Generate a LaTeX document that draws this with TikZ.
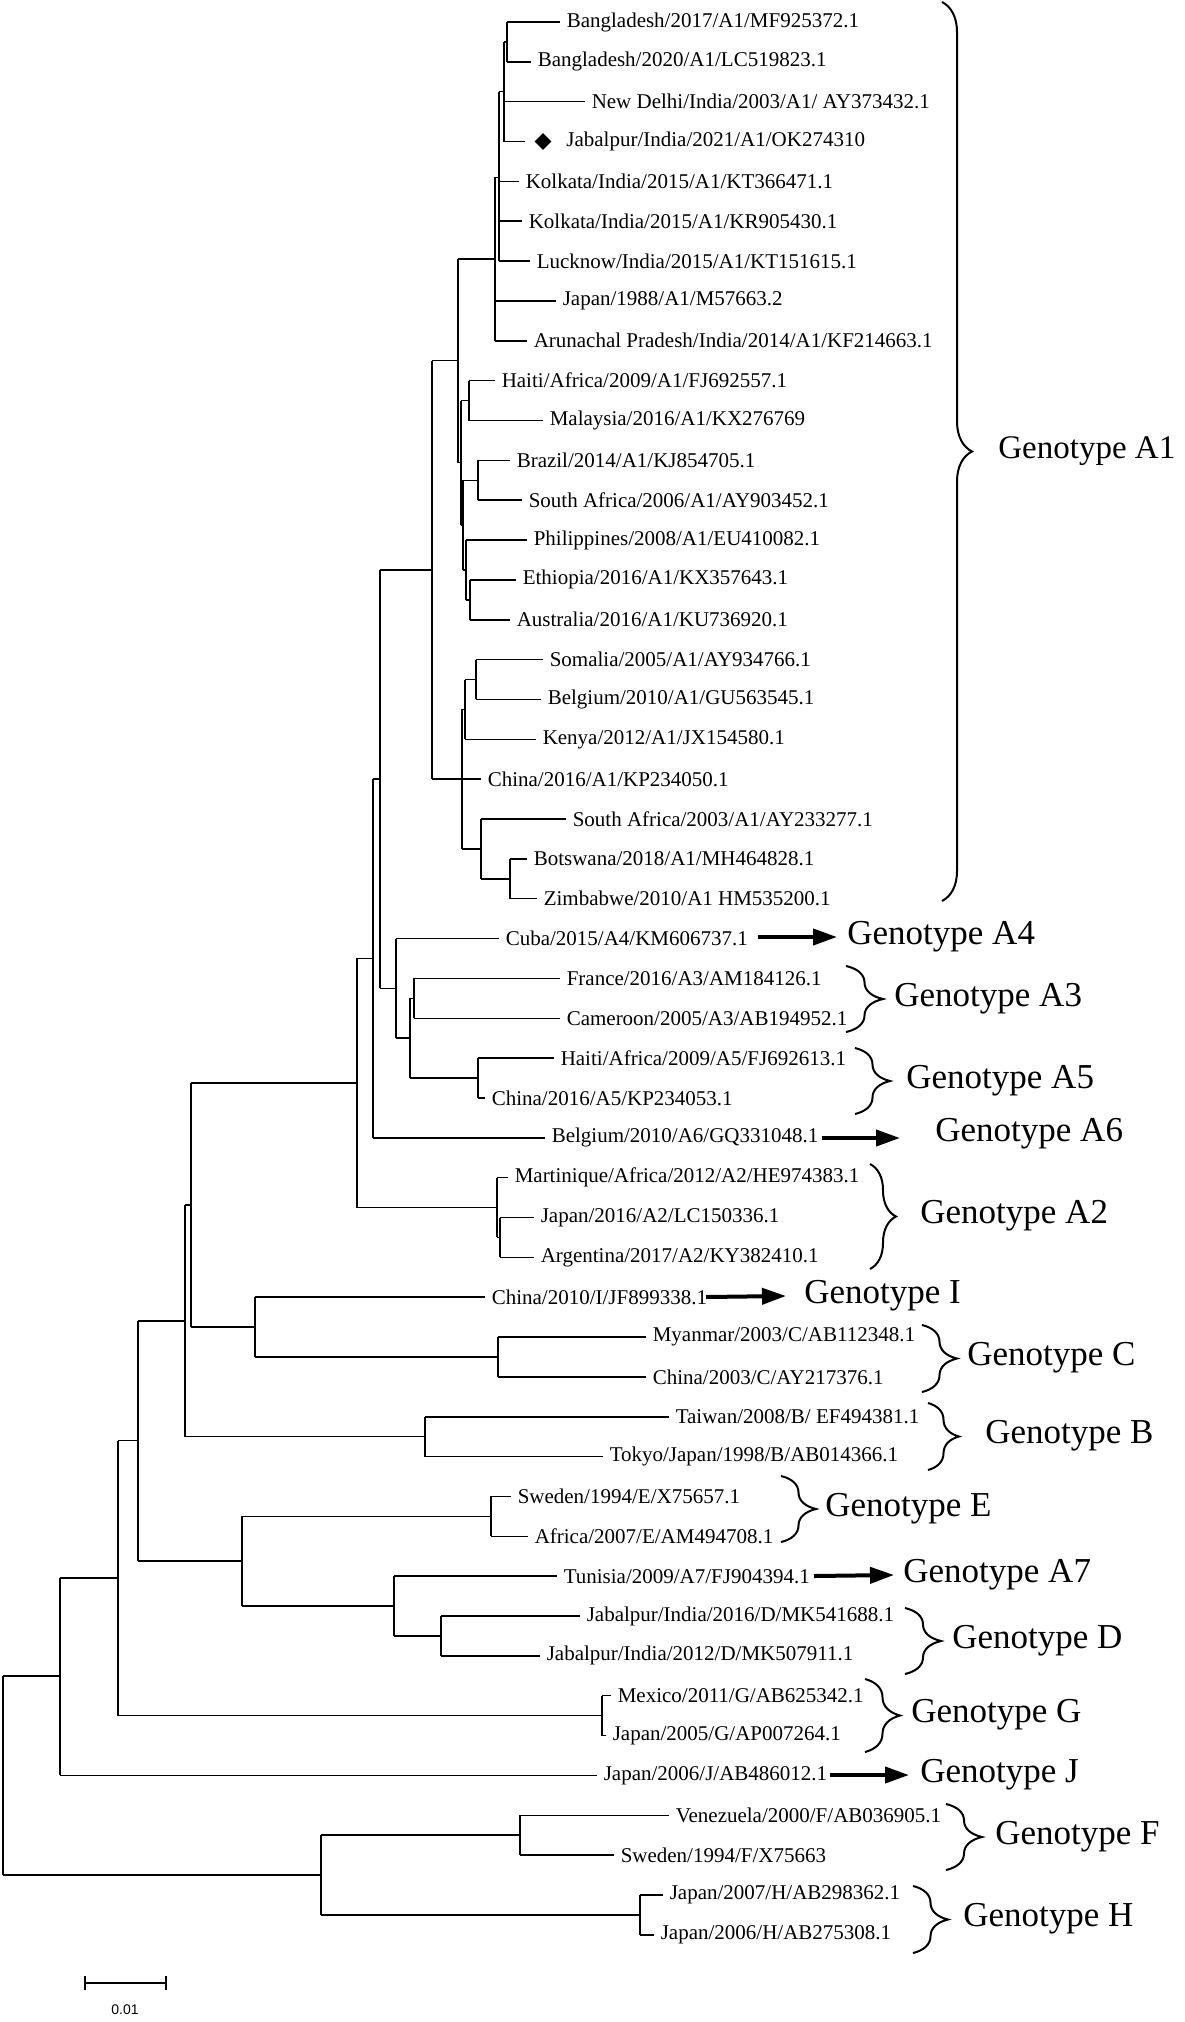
\documentclass[tikz,border=0pt]{standalone}
\usepackage{fontspec}
\setmainfont{Liberation Serif}
\newfontfamily\sansf{Liberation Sans}
\usetikzlibrary{decorations.pathreplacing,arrows.meta,shapes.geometric}
\newcommand\YY[1]{22+39.85*(#1)}
\tikzset{
  br/.style={line width=0.75pt},
  lab/.style={font=\fontsize{10.5}{11}\selectfont, inner sep=0pt, anchor=west, xshift=3pt},
  geno/.style={font=\fontsize{17.5}{19}\selectfont, inner sep=0pt, anchor=west},
  brc/.style={line width=1pt, decorate},
  arr/.style={line width=2pt, -{Triangle[length=12pt,width=8pt]}}
}
% leaf: parent x, index, end x, text
\newcommand\Lf[4]{\draw[br] (#1,{\YY{#2}}) -- (#3,{\YY{#2}}) node[lab] (l#2) {#4};}
% branch to internal node: parent x, y index, child x
\newcommand\Br[3]{\draw[br] (#1,{\YY{#2}}) -- (#3,{\YY{#2}});}
% vertical: x, i1, i2
\newcommand\Vt[3]{\draw[br] (#1,{\YY{#2}}) -- (#1,{\YY{#3}});}
\newcommand\Brc[4]{% x, top, bottom, amplitude
  \draw[brc,decoration={brace,amplitude=#4*0.5pt}] (#1,#2) -- (#1,#3);}
\begin{document}
\begin{tikzpicture}[x=0.5pt,y=-0.5pt]
\useasboundingbox (0,0) rectangle (1184,2022);
% ---- A1 upper clade
\Vt{507}{0}{1}
\Lf{507}{0}{560}{Bangladesh/2017/A1/MF925372.1}
\Lf{507}{1}{531}{Bangladesh/2020/A1/LC519823.1}
\Vt{504}{0.5}{3}\Br{504}{0.5}{507}
\Lf{504}{2}{585}{New Delhi/India/2003/A1/ AY373432.1}
\draw[br] (504,{\YY{3}}) -- (525,{\YY{3}});
\node[diamond,fill,minimum size=8.5pt,inner sep=0pt] (jdia) at (543,{\YY{3}}) {};
\node[lab,xshift=0pt] (l3) at (560,{\YY{3}}) {Jabalpur/India/2021/A1/OK274310};
\Vt{499}{1.75}{6}\Br{499}{1.75}{504}
\Lf{499}{4}{519}{Kolkata/India/2015/A1/KT366471.1}
\Lf{499}{5}{522}{Kolkata/India/2015/A1/KR905430.1}
\Lf{499}{6}{530}{Lucknow/India/2015/A1/KT151615.1}
\Vt{495}{3.9}{8}\Br{495}{3.9}{499}
\Lf{495}{7}{556}{Japan/1988/A1/M57663.2}
\Lf{495}{8}{527}{Arunachal Pradesh/India/2014/A1/KF214663.1}
\Vt{469}{9}{10}
\Lf{469}{9}{495}{Haiti/Africa/2009/A1/FJ692557.1}
\Lf{469}{10}{543}{Malaysia/2016/A1/KX276769}
\Vt{478}{11}{12}
\Lf{478}{11}{510}{Brazil/2014/A1/KJ854705.1}
\Lf{478}{12}{522}{South Africa/2006/A1/AY903452.1}
\Vt{470}{14}{15}
\Lf{470}{14}{516}{Ethiopia/2016/A1/KX357643.1}
\Lf{470}{15}{510}{Australia/2016/A1/KU736920.1}
\Vt{466}{13}{14.5}\Br{466}{14.5}{470}
\Lf{466}{13}{527}{Philippines/2008/A1/EU410082.1}
\Vt{463}{11.5}{13.75}\Br{463}{11.5}{478}\Br{463}{13.75}{466}
\Vt{461}{9.5}{12.625}\Br{461}{9.5}{469}\Br{461}{12.625}{463}
\Vt{458}{5.95}{11.06}\Br{458}{5.95}{495}\Br{458}{11.06}{461}
% ---- A1 African clade
\Vt{476}{16}{17}
\Lf{476}{16}{543}{Somalia/2005/A1/AY934766.1}
\Lf{476}{17}{541}{Belgium/2010/A1/GU563545.1}
\Vt{465}{16.5}{18}\Br{465}{16.5}{476}
\Lf{465}{18}{536}{Kenya/2012/A1/JX154580.1}
\Vt{510}{21}{22}
\Lf{510}{21}{527}{Botswana/2018/A1/MH464828.1}
\Lf{510}{22}{537}{Zimbabwe/2010/A1 HM535200.1}
\Vt{481}{20}{21.5}\Br{481}{21.5}{510}
\Lf{481}{20}{566}{South Africa/2003/A1/AY233277.1}
\Vt{462}{17.25}{20.75}\Br{462}{17.25}{465}\Br{462}{20.75}{481}
\Lf{462}{19}{481}{China/2016/A1/KP234050.1}
\Vt{432}{8.5}{19}\Br{432}{8.5}{458}\Br{432}{19}{462}
% ---- A3 A4 A5 A6 A2
\Vt{414}{24}{25}
\Lf{414}{24}{560}{France/2016/A3/AM184126.1}
\Lf{414}{25}{560}{Cameroon/2005/A3/AB194952.1}
\Vt{478}{26}{27}
\Lf{478}{26}{554}{Haiti/Africa/2009/A5/FJ692613.1}
\Lf{478}{27}{485}{China/2016/A5/KP234053.1}
\Vt{410}{24.5}{26.5}\Br{410}{24.5}{414}\Br{410}{26.5}{478}
\Vt{396}{23}{25.5}\Br{396}{25.5}{410}
\Lf{396}{23}{499}{Cuba/2015/A4/KM606737.1}
\Vt{380}{13.75}{24.25}\Br{380}{13.75}{432}\Br{380}{24.25}{396}
\Vt{373}{19}{28}\Br{373}{19}{380}
\Lf{373}{28}{545}{Belgium/2010/A6/GQ331048.1}
\Vt{500}{30}{31}
\Lf{500}{30}{534}{Japan/2016/A2/LC150336.1}
\Lf{500}{31}{534}{Argentina/2017/A2/KY382410.1}
\Vt{497}{29}{30.5}\Br{497}{30.5}{500}
\Lf{497}{29}{508}{Martinique/Africa/2012/A2/HE974383.1}
\Vt{357}{23.5}{29.75}\Br{357}{23.5}{373}\Br{357}{29.75}{497}
% ---- I, C, B
\Vt{498}{33}{34}
\Lf{498}{33}{646}{Myanmar/2003/C/AB112348.1}
\Lf{498}{34}{646}{China/2003/C/AY217376.1}
\Vt{255}{32}{33.5}\Br{255}{33.5}{498}
\Lf{255}{32}{485}{China/2010/I/JF899338.1}
\Vt{191}{26.625}{32.75}\Br{191}{26.625}{357}\Br{191}{32.75}{255}
\Vt{425}{35}{36}
\Lf{425}{35}{669}{Taiwan/2008/B/ EF494381.1}
\Lf{425}{36}{603}{Tokyo/Japan/1998/B/AB014366.1}
\Vt{185}{29.69}{35.5}\Br{185}{29.69}{191}\Br{185}{35.5}{425}
% ---- E, A7, D
\Vt{491}{37}{38}
\Lf{491}{37}{511}{Sweden/1994/E/X75657.1}
\Lf{491}{38}{528}{Africa/2007/E/AM494708.1}
\Vt{441}{40}{41}
\Lf{441}{40}{580}{Jabalpur/India/2016/D/MK541688.1}
\Lf{441}{41}{540}{Jabalpur/India/2012/D/MK507911.1}
\Vt{394}{39}{40.5}\Br{394}{40.5}{441}
\Lf{394}{39}{557}{Tunisia/2009/A7/FJ904394.1}
\Vt{242}{37.5}{39.75}\Br{242}{37.5}{491}\Br{242}{39.75}{394}
\Vt{138}{32.6}{38.625}\Br{138}{32.6}{185}\Br{138}{38.625}{242}
% ---- G, J
\Vt{602}{42}{43}
\Lf{602}{42}{611}{Mexico/2011/G/AB625342.1}
\Lf{602}{43}{606}{Japan/2005/G/AP007264.1}
\Vt{118}{35.6}{42.5}\Br{118}{35.6}{138}\Br{118}{42.5}{602}
\Vt{60}{39.05}{44}\Br{60}{39.05}{118}
\Lf{60}{44}{597}{Japan/2006/J/AB486012.1}
% ---- F, H
\Vt{520}{45}{46}
\Lf{520}{45}{669}{Venezuela/2000/F/AB036905.1}
\Lf{520}{46}{614}{Sweden/1994/F/X75663}
\Vt{640}{47}{48}
\Lf{640}{47}{663}{Japan/2007/H/AB298362.1}
\Lf{640}{48}{654}{Japan/2006/H/AB275308.1}
\Vt{321}{45.5}{47.5}\Br{321}{45.5}{520}\Br{321}{47.5}{640}
\Vt{3}{41.5}{46.5}\Br{3}{41.5}{60}\Br{3}{46.5}{321}
% ---- braces and genotype labels
\Brc{942}{2}{901}{30}
\node[geno,font=\fontsize{16.5}{18}\selectfont] (gA1) at (998,451) {Genotype A1};
\Brc{846}{966}{1032}{37}
\node[geno] (gA3) at (894,999) {Genotype A3};
\Brc{855}{1048}{1114}{35}
\node[geno] (gA5) at (906,1081) {Genotype A5};
\Brc{870}{1164}{1269}{26}
\node[geno] (gA2) at (920,1216) {Genotype A2};
\Brc{922}{1325}{1392}{35}
\node[geno] (gC) at (967,1358) {Genotype C};
\Brc{928}{1403}{1470}{31}
\node[geno] (gB) at (985,1436) {Genotype B};
\Brc{781}{1476}{1542}{35}
\node[geno] (gE) at (825,1509) {Genotype E};
\Brc{905}{1608}{1674}{36}
\node[geno] (gD) at (952,1641) {Genotype D};
\Brc{865}{1679}{1752}{35}
\node[geno] (gG) at (911,1715) {Genotype G};
\Brc{946}{1804}{1870}{36}
\node[geno] (gF) at (995,1837) {Genotype F};
\Brc{913}{1886}{1953}{35}
\node[geno] (gH) at (963,1919) {Genotype H};
% arrows
\node[geno] (gA4) at (847,937) {Genotype A4};
\coordinate (a4s) at (758,937);
\draw[arr] (a4s) -- ([xshift=-5pt]gA4.west);
\node[geno] (gA6) at (935,1134) {Genotype A6};
\coordinate (a6s) at (822,1138);
\draw[arr] (a6s) -- (900,1138);
\node[geno] (gI) at (804,1296) {Genotype I};
\coordinate (ais) at (706,1297);
\draw[arr] (ais) -- ([xshift=-9pt]gI.west);
\node[geno] (gA7) at (903,1575) {Genotype A7};
\coordinate (a7s) at (814,1576);
\draw[arr] (a7s) -- ([xshift=-4.5pt]gA7.west);
\node[geno] (gJ) at (920,1775) {Genotype J};
\coordinate (ajs) at (830,1775);
\draw[arr] (ajs) -- ([xshift=-5.5pt]gJ.west);
% scale bar
\coordinate (sb1) at (85,1983);
\coordinate (sb2) at (166,1983);
\draw[line width=1pt] (sb1) -- (sb2);
\draw[line width=1pt] (85,1976) -- (85,1990);
\draw[line width=1pt] (166,1976) -- (166,1990);
\node[font=\sansf\fontsize{7}{8}\selectfont, inner sep=0pt] (sbl) at (125,2010) {0.01};
\end{tikzpicture}
\end{document}
